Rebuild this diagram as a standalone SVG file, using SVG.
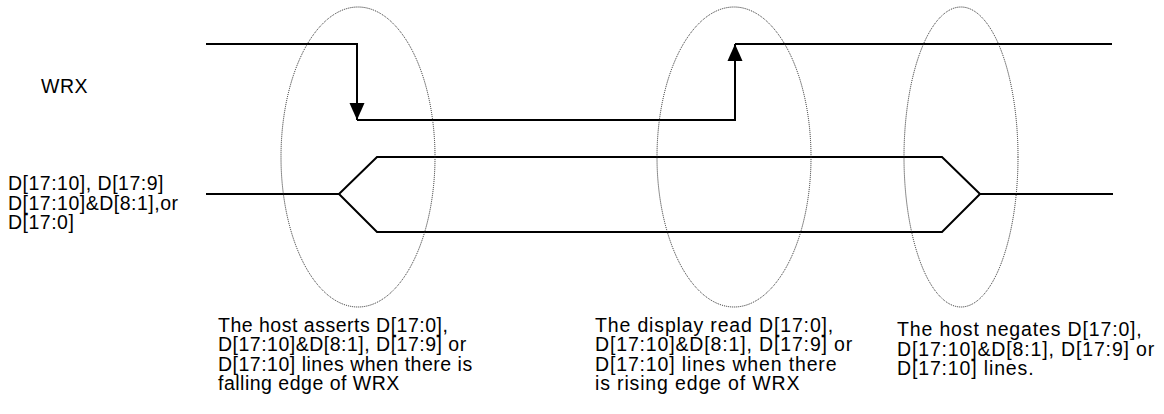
<svg xmlns="http://www.w3.org/2000/svg" width="1164" height="414" viewBox="0 0 1164 414">
<style>
.sig{fill:none;stroke:#000;stroke-width:2}
.oval{fill:none;stroke:#222;stroke-width:1;stroke-dasharray:1,1}
.t{font-family:"Liberation Sans",Arial,sans-serif;font-size:19.5px;letter-spacing:0.5px;fill:#000}
.w{letter-spacing:0.85px}
</style>
<defs>
<marker id="ah" markerUnits="userSpaceOnUse" markerWidth="18" markerHeight="16" refX="17" refY="8" orient="auto">
<path d="M0,0.5 L17,8 L0,15.5 z" fill="#000"/>
</marker>
</defs>
<g id="connectors">
<path class="sig" d="M206,44 H357 V120" marker-end="url(#ah)"/>
<path class="sig" d="M357,120 H735 V44" marker-end="url(#ah)"/>
<path class="sig" d="M735,44 H1112"/>
<path class="sig" d="M206,194 H339 L377,157 H942 L980,194 H1113"/>
<path class="sig" d="M339,194 L377,232 H942 L980,194"/>
</g>
<g id="oval1"><ellipse class="oval" cx="358" cy="157" rx="77" ry="150"/></g>
<g id="oval2"><ellipse class="oval" cx="734" cy="157" rx="77" ry="150"/></g>
<g id="oval3"><ellipse class="oval" cx="961" cy="157" rx="57" ry="150"/></g>
<g id="label-wrx"><text class="t" x="41" y="93">WRX</text></g>
<g id="label-d">
<text class="t" x="8" y="190">D[17:10], D[17:9]</text>
<text class="t" x="8" y="209.5">D[17:10]&amp;D[8:1],or</text>
<text class="t" x="8" y="229">D[17:0]</text>
</g>
<g id="note1">
<text class="t" x="218" y="331.5">The host asserts D[17:0],</text>
<text class="t" x="218" y="351">D[17:10]&amp;D[8:1], D[17:9] or</text>
<text class="t" x="218" y="370.5">D[17:10] lines when there is</text>
<text class="t" x="218" y="390">falling edge of WRX</text>
</g>
<g id="note2">
<text class="t w" x="595" y="331.5">The display read D[17:0],</text>
<text class="t w" x="595" y="351">D[17:10]&amp;D[8:1], D[17:9] or</text>
<text class="t w" x="595" y="370.5">D[17:10] lines when there</text>
<text class="t w" x="595" y="390">is rising edge of WRX</text>
</g>
<g id="note3">
<text class="t w" x="897" y="336">The host negates D[17:0],</text>
<text class="t w" x="897" y="355.5">D[17:10]&amp;D[8:1], D[17:9] or</text>
<text class="t w" x="897" y="375">D[17:10] lines.</text>
</g>
</svg>
